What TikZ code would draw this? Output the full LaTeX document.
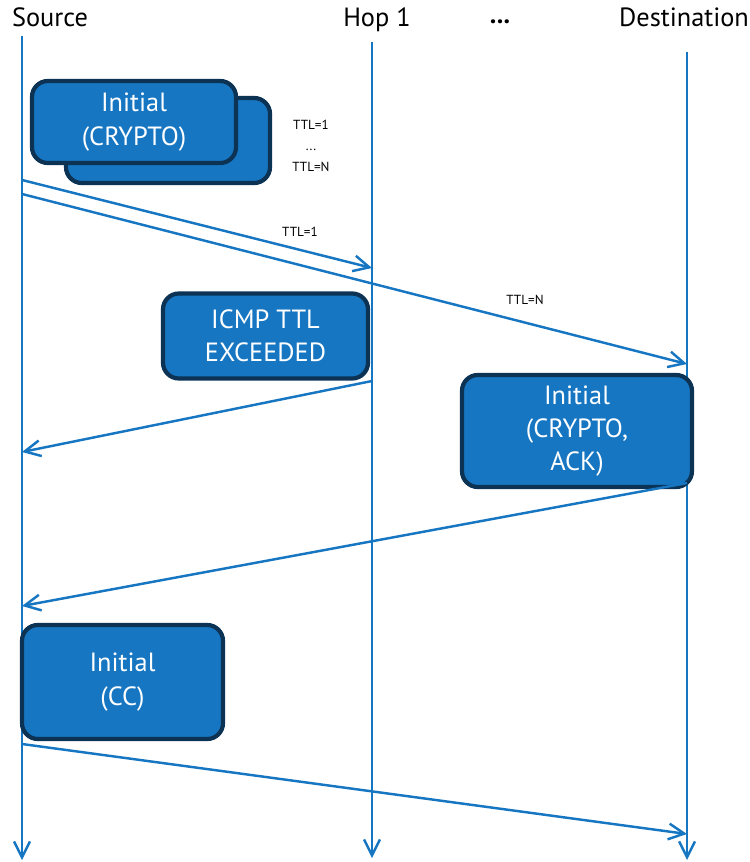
\documentclass[tikz,border=0pt]{standalone}
\usepackage{fontspec}
\setmainfont{PT Sans}
\usepackage{xcolor}
\usetikzlibrary{arrows.meta,positioning,calc}
\definecolor{msgblue}{HTML}{1776C2}
\definecolor{boxedge}{HTML}{0C3254}

\begin{document}
\begin{tikzpicture}[x=0.02cm, y=-0.02cm, font=\fontsize{15}{19}\selectfont,
    line/.style={draw=msgblue, line width=1.4pt, -{Straight Barb[length=9pt,width=9pt]}},
    pkt/.style={draw=boxedge, fill=msgblue, line width=2.4pt, rounded corners=9pt,
                text=white, align=center, inner sep=0pt},
    ttl/.style={font=\fontsize{7.5}{9}\selectfont, align=center}]
  \useasboundingbox (0,0) rectangle (750,862);
  % Hosts
  \node (src)  at (50,17)  {Source};
  \node (hop)  at (377,20) {Hop 1};
  \node (dots) at (500,22) {\textbf{...}};
  \node (dst)  at (684,17) {Destination};
  % Lifelines
  \coordinate (srcTop) at (22,36);   \coordinate (srcEnd) at (22,860);
  \coordinate (hopTop) at (372,42);  \coordinate (hopEnd) at (372,858);
  \coordinate (dstTop) at (687,52);  \coordinate (dstEnd) at (687,860);
  \draw[line] (srcTop) -- (srcEnd);
  \draw[line] (hopTop) -- (hopEnd);
  \draw[line] (dstTop) -- (dstEnd);
  % Initial (CRYPTO) packets
  \node[pkt, minimum width=204*0.02cm, minimum height=85*0.02cm] (cryptoB) at (168,140.5) {};
  \node[pkt, minimum width=204*0.02cm, minimum height=82*0.02cm] (crypto) at (134,122) {Initial\\(CRYPTO)};
  \node[ttl] (ttlRange) at (311,146) {TTL=1\\[3pt]...\\[3pt]TTL=N};
  % Probes
  \coordinate (p1s) at (22,180);  \coordinate (p1e) at (372,268);
  \coordinate (pNs) at (22,194);  \coordinate (pNe) at (687,364);
  \draw[line] (p1s) -- (p1e);
  \draw[line] (pNs) -- (pNe);
  \node[ttl] (ttlOne) at (300,232) {TTL=1};
  \node[ttl] (ttlN)   at (525,300) {TTL=N};
  % ICMP reply from Hop 1
  \node[pkt, minimum width=205*0.02cm, minimum height=85*0.02cm] (icmp) at (265.5,336) {ICMP TTL\\EXCEEDED};
  \coordinate (icS) at (372,381);  \coordinate (icE) at (22,452);
  \draw[line] (icS) -- (icE);
  % Server answer
  \node[pkt, minimum width=230*0.02cm, minimum height=112*0.02cm] (ack) at (577,431) {Initial\\(CRYPTO,\\ACK)};
  \coordinate (akS) at (687,483);  \coordinate (akE) at (22,606);
  \draw[line] (akS) -- (akE);
  % Client finishes
  \node[pkt, minimum width=201*0.02cm, minimum height=114*0.02cm] (cc) at (122.5,682) {Initial\\(CC)};
  \coordinate (ccS) at (22,744);  \coordinate (ccE) at (687,834);
  \draw[line] (ccS) -- (ccE);
\end{tikzpicture}
\end{document}
